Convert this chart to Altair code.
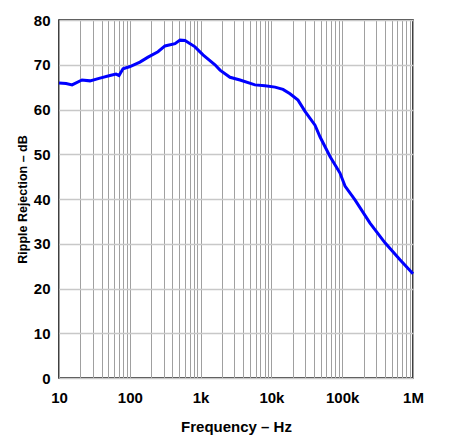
import altair as alt
import pandas as pd

freq_hz = [10, 12.6, 15.3, 21.1, 27.4, 37.9, 52.5, 63.8, 70.4, 80.2, 100.7, 139, 181, 250, 314,
           435, 512, 602, 834, 1081, 1597, 1880, 2602, 3600, 5866, 8120, 11240, 14580, 18320,
           23760, 29840, 41300, 48560, 67290, 93080, 109600, 151600, 247000, 402500, 655000, 1000000]
rejection_db = [65.9, 65.8, 65.5, 66.6, 66.4, 67.0, 67.6, 67.9, 67.6, 69.1, 69.6, 70.6, 71.7, 72.9, 74.2,
                74.7, 75.5, 75.4, 74.0, 72.2, 70.0, 68.8, 67.2, 66.6, 65.5, 65.3, 65.0, 64.5, 63.5,
                62.1, 59.6, 56.5, 53.9, 49.5, 45.8, 42.9, 39.8, 34.6, 30.2, 26.4, 23.3]

x_grid_values = [m * 10 ** d for d in range(1, 6) for m in range(1, 10)] + [1000000]
y_tick_values = [0, 10, 20, 30, 40, 50, 60, 70, 80]
x_label_map = {10: "10", 100: "100", 1000: "1k", 10000: "10k", 100000: "100k", 1000000: "1M"}

df = pd.DataFrame({"f": freq_hz, "db": rejection_db})

label_expr = " : ".join(
    [f"datum.value == {k} ? '{v}'" for k, v in x_label_map.items()]
) + " : ''"

FONT = "Liberation Sans"

chart = alt.Chart(df).mark_line(color="#0000ff", strokeWidth=3).encode(
    x=alt.X("f:Q",
            scale=alt.Scale(type="log", domain=[10, 1000000], nice=False),
            axis=alt.Axis(values=x_grid_values, labelExpr=label_expr, labelOverlap=False,
                          labelFlush=False,
                          ticks=False, domain=False, gridColor="#a0a0a0", gridWidth=1,
                          labelFont=FONT, labelFontSize=15, labelFontWeight="bold",
                          labelColor="black", labelPadding=12,
                          title="Frequency – Hz", titleFont=FONT, titleFontSize=15,
                          titleFontWeight="bold", titleColor="black", titlePadding=14)),
    y=alt.Y("db:Q",
            scale=alt.Scale(domain=[0, 80], nice=False),
            axis=alt.Axis(values=y_tick_values, ticks=False, domain=False,
                          gridColor="#c8c8c8", gridWidth=1.5,
                          labelFont=FONT, labelFontSize=15, labelFontWeight="bold",
                          labelColor="black", labelPadding=9,
                          title="Ripple Rejection – dB", titleFont=FONT, titleFontSize=12.5,
                          titleFontWeight="bold", titleColor="black", titlePadding=4)),
).properties(
    width=354, height=358,
    autosize=alt.AutoSizeParams(type="none"),
    padding={"left": 51, "top": 12, "right": 30, "bottom": 60},
    background="white",
).configure_view(stroke="black", strokeWidth=1.5)

chart.save("out.html", embed_options={"renderer": "svg", "actions": False})
